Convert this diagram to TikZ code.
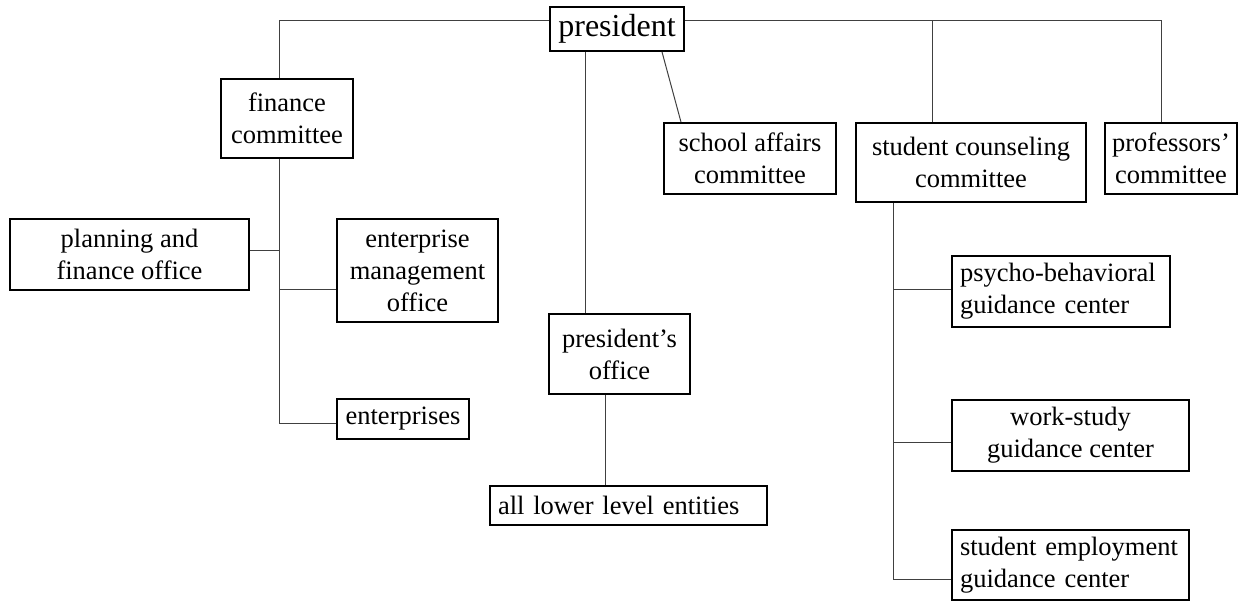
\documentclass[tikz,border=0pt]{standalone}
\usepackage{fontspec}
\setmainfont{Liberation Serif}
\begin{document}
\begin{tikzpicture}[x=1pt,y=-1pt,
    unit/.style={draw,line width=1.8pt,align=center,inner sep=0pt,
      font=\fontsize{26.5}{32}\selectfont},
    leftunit/.style={unit,align=left,inner xsep=8pt},
    link/.style={line width=1pt,black!75}]
  \useasboundingbox (0,0) rectangle (1256,601);
  % boxes
  \node[unit,font=\fontsize{32}{38}\selectfont,minimum width=134,minimum height=44] (pres) at (617,29) {president};
  \node[unit,minimum width=132,minimum height=79] (fin) at (287,118.5) {finance\\committee};
  \node[unit,minimum width=239,minimum height=71] (plan) at (129.5,254.5) {planning and\\finance office};
  \node[unit,minimum width=161,minimum height=103] (mgmt) at (417.5,270.5) {enterprise\\management\\office};
  \node[unit,minimum width=132,minimum height=40] (ent) at (403,419) {enterprises};
  \node[unit,minimum width=172,minimum height=71] (school) at (750,158.5) {school affairs\\committee};
  \node[unit,minimum width=141,minimum height=80] (poff) at (619.5,354) {president's\\office};
  \node[leftunit,text width=261,minimum height=39] (lower) at (628.5,505.5) {all lower level entities};
  \node[unit,minimum width=230,minimum height=79] (counsel) at (971,162.5) {student counseling\\committee};
  \node[unit,minimum width=132,minimum height=71] (prof) at (1171,158.5) {professors'\\committee};
  \node[leftunit,text width=202,minimum height=71] (psycho) at (1061,291.5) {psycho-behavioral\\guidance center};
  \node[unit,minimum width=237,minimum height=71] (work) at (1070.5,435.5) {work-study\\guidance center};
  \node[leftunit,text width=221,minimum height=70] (employ) at (1070.5,565) {student employment\\guidance center};
  % top level
  \coordinate (ftop) at (279,21);
  \coordinate (ctop) at (932,21);
  \coordinate (ptop) at (1161.5,21);
  \draw[link] (pres.west |- ftop) -- (ftop) -- (ftop |- fin.north);
  \draw[link] (pres.east |- ptop) -- (ptop) -- (ptop |- prof.north);
  \draw[link] (ctop) -- (ctop |- counsel.north);
  \coordinate (pdown) at (585.7,0);
  \draw[link] (pres.south -| pdown) -- (poff.north -| pdown);
  \coordinate (sa1) at (662,0);
  \coordinate (sa2) at (681,0);
  \draw[link] (pres.south -| sa1) -- (school.north -| sa2);
  % finance committee
  \coordinate (fplan) at (279,251);
  \coordinate (fmgmt) at (279,290);
  \coordinate (fbot) at (279,424);
  \draw[link] (fbot |- fin.south) -- (fbot) -- (ent.west |- fbot);
  \draw[link] (plan.east |- fplan) -- (fplan);
  \draw[link] (fmgmt) -- (mgmt.west |- fmgmt);
  % president's office
  \coordinate (plow) at (605,0);
  \draw[link] (poff.south -| plow) -- (lower.north -| plow);
  % student counseling committee
  \coordinate (cpsy) at (893,290);
  \coordinate (cwork) at (893,443);
  \coordinate (cbot) at (893,579);
  \draw[link] (cbot |- counsel.south) -- (cbot) -- (employ.west |- cbot);
  \draw[link] (cpsy) -- (psycho.west |- cpsy);
  \draw[link] (cwork) -- (work.west |- cwork);
\end{tikzpicture}
\end{document}
